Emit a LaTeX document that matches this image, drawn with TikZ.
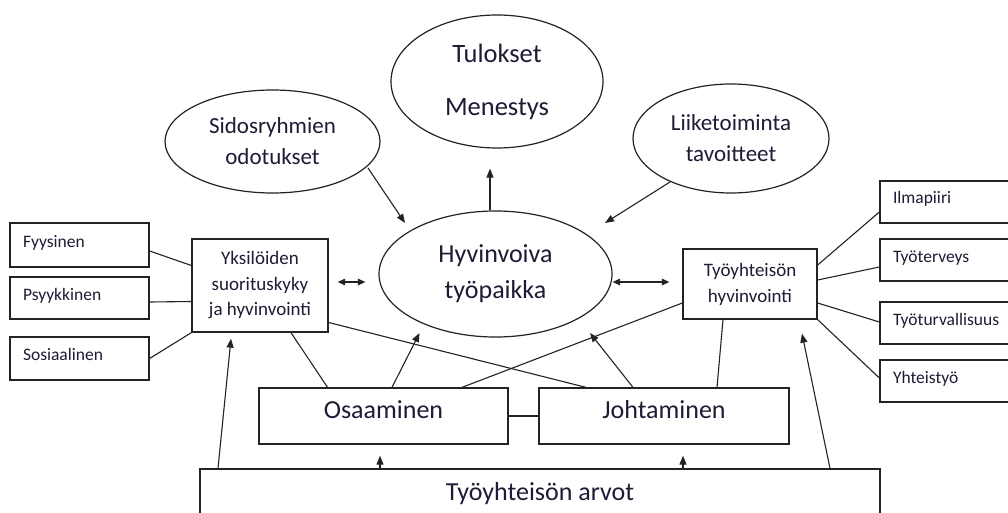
\documentclass[tikz,border=0pt]{standalone}
\usepackage{fontspec}
\setmainfont{Carlito}
\usetikzlibrary{calc,shapes.geometric,arrows.meta}
\definecolor{txt}{RGB}{28,28,52}
\definecolor{ln}{RGB}{35,35,35}
\tikzset{
  box/.style={draw=ln, line width=1.3pt, rectangle, inner sep=0pt, text=txt},
  smallbox/.style={box, minimum height=42pt, inner xsep=13pt, text width=113pt, align=left,
     font=\fontsize{17.5}{20}\selectfont, text height=12pt, text depth=8pt},
  rightbox/.style={smallbox, text width=124pt},
  midbox/.style={box, align=center, font=\fontsize{19}{26}\selectfont},
  bigbox/.style={box, minimum height=56pt, font=\fontsize{26}{30}\selectfont, text height=14pt, text depth=10pt},
  oval/.style={draw=ln, line width=1.2pt, ellipse, inner sep=0pt, align=center, text=txt},
  conn/.style={draw=ln, line width=1.1pt},
  arr/.style={conn, -{Triangle[length=9pt,width=7pt]}},
  darr/.style={conn, {Triangle[length=7.5pt,width=6.5pt]}-{Triangle[length=7.5pt,width=6.5pt]}}
}
\begin{document}
\begin{tikzpicture}[x=1pt,y=-1pt]
\clip (0,0) rectangle (1008,513);
\fill[white] (0,0) rectangle (1008,513);

% left boxes
\node[smallbox, minimum height=44pt] (fyy) at (79.5,245) {Fyysinen};
\node[smallbox] (psy) at (79.5,298) {Psyykkinen};
\node[smallbox, minimum height=43pt] (sos) at (79.5,358.5) {Sosiaalinen};
\node[midbox, minimum width=136pt, minimum height=93pt, font=\fontsize{19}{25.5}\selectfont] (yks) at (260,285.5) {Yksilöiden\\suorituskyky\\ja hyvinvointi};

% right boxes
\node[midbox, minimum width=134pt, minimum height=70pt] (tyo) at (750,284) {Työyhteisön\\hyvinvointi};
\node[rightbox] (ilm) at (955,202) {Ilmapiiri};
\node[rightbox] (ter) at (955,260) {Työterveys};
\node[rightbox] (tur) at (955,323) {Työturvallisuus};
\node[rightbox] (yht) at (955,381) {Yhteistyö};

% bottom boxes
\node[bigbox, minimum width=249pt] (osa) at (383.5,416) {Osaaminen};
\node[bigbox, minimum width=250pt] (joh) at (664,416) {Johtaminen};
\node[bigbox, minimum width=680pt, minimum height=62pt, text height=12pt, text depth=12pt] (arv) at (540,500) {Työyhteisön arvot};

% ellipses
\node[oval, minimum width=212pt, minimum height=133pt, font=\fontsize{26.5}{53}\selectfont] (tul) at (497,81.5) {Tulokset\\Menestys};
\node[oval, minimum width=215pt, minimum height=103pt, font=\fontsize{23}{31}\selectfont] (sid) at (272.5,141.5) {Sidosryhmien\\odotukset};
\node[oval, minimum width=196pt, minimum height=109pt, font=\fontsize{23}{31}\selectfont] (lii) at (731,138.5) {Liiketoiminta\\tavoitteet};
\node[oval, minimum width=233pt, minimum height=126pt, font=\fontsize{26}{36}\selectfont] (hyv) at (495.5,274) {Hyvinvoiva\\työpaikka};

% left connectors
\draw[conn] ($(fyy.east)+(0,6)$) -- ($(yks.west)+(0,-20)$);
\draw[conn] ($(psy.east)+(0,4)$) -- ($(yks.west)+(0,16)$);
\draw[conn] (sos.east) -- (yks.south west);

% right connectors
\draw[conn] ($(tyo.east)+(0,-19)$) -- ($(ilm.west)+(0,10)$);
\draw[conn] ($(tyo.east)+(0,-4)$) -- ($(ter.west)+(0,7)$);
\draw[conn] ($(tyo.east)+(0,19)$) -- ($(tur.west)+(0,-1)$);
\draw[conn] (tyo.south east) -- ($(yht.west)+(0,-3)$);

% middle connectors
\draw[conn] ($(yks.east)+(0,37)$) -- ($(joh.north)+(-78,0)$);
\draw[conn] ($(yks.south)+(31,0)$) -- ($(osa.north)+(-56,0)$);
\draw[arr] ($(osa.north)+(8.5,0)$) -- ($(hyv.center)+(-76,59)$);
\draw[conn] ($(osa.north)+(78.5,0)$) -- ($(tyo.west)+(0,19)$);
\draw[arr] ($(joh.north)+(-31,0)$) -- ($(hyv.center)+(94.5,59)$);
\draw[conn] ($(joh.north)+(53,0)$) -- ($(tyo.south)+(-27,0)$);
\draw[conn] (osa.east) -- (joh.west);

% arrows from values
\draw[arr] ($(arv.north)+(-322,0)$) -- ($(yks.south)+(-29,6)$);
\draw[arr] ($(arv.north)+(-160,0)$) -- ($(osa.south)+(-3.5,11)$);
\draw[arr] ($(arv.north)+(143,0)$) -- ($(joh.south)+(19,11)$);
\draw[arr] ($(arv.north)+(290,0)$) -- ($(tyo.south)+(52,14)$);

% top arrows
\draw[arr] ($(hyv.north)+(-5.5,0)$) -- ($(tul.south)+(-7,20)$);
\draw[arr] ($(sid.center)+(95.5,26.5)$) -- ($(hyv.center)+(-90.5,-51)$);
\draw[arr] ($(lii.center)+(-61,43.5)$) -- ($(hyv.center)+(109.5,-51)$);

% double arrows
\draw[darr] ($(yks.east)+(9,-3.5)$) -- ($(hyv.west)+(-13,8)$);
\draw[darr] ($(hyv.east)+(0,8)$) -- ($(tyo.west)+(-13,-2)$);
\end{tikzpicture}
\end{document}
